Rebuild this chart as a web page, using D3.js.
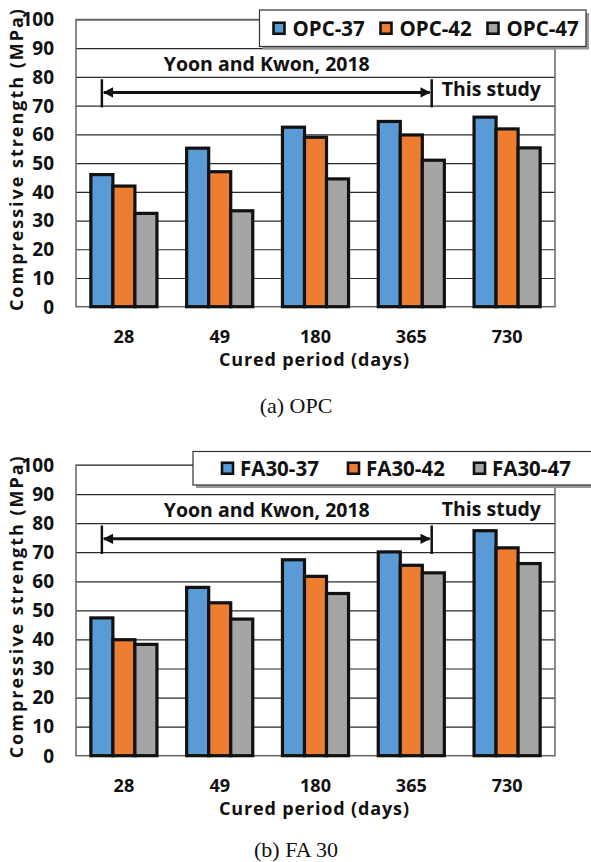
<!DOCTYPE html>
<html>
<head>
<meta charset="utf-8">
<script src="https://cdn.jsdelivr.net/npm/d3@7"></script>
<style>
	body { margin: 0; background: #fff; }
	text { font-family: "Open Sans", "Noto Sans", sans-serif; font-weight: 700; fill: #111; }
	.caption { font-family: "Liberation Serif", "Times New Roman", serif; font-weight: 400; }
</style>
</head>
<body>
<div id="chart"></div>
<script>
// cured periods (days) on the x axis
var periods = ["28", "49", "180", "365", "730"];
var yTicks = [0, 10, 20, 30, 40, 50, 60, 70, 80, 90, 100];

// (a) OPC
var opcNames = ["OPC-37", "OPC-42", "OPC-47"];
var opc37 = [46, 55.2, 62.5, 64.5, 66];
var opc42 = [42, 47, 59, 59.8, 61.9];
var opc47 = [32.5, 33.4, 44.5, 51, 55.3];

// (b) FA 30
var faNames = ["FA30-37", "FA30-42", "FA30-47"];
var fa37 = [47.4, 57.9, 67.4, 70.1, 77.4];
var fa42 = [39.9, 52.6, 61.7, 65.5, 71.5];
var fa47 = [38.3, 47, 55.8, 62.9, 66.1];

var colors = ["#5B9BD5", "#ED7D31", "#A5A5A5"];

var width = 591,
	height = 862;

var svg = d3.select("#chart")
	.append("svg")
	.attr("width", width)
	.attr("height", height);

var defs = svg.append("defs");
defs.append("marker")
	.attr("id", "head")
	.attr("viewBox", "0 0 10 10")
	.attr("refX", 9)
	.attr("refY", 5)
	.attr("markerWidth", 4)
	.attr("markerHeight", 3.4)
	.attr("markerUnits", "strokeWidth")
	.attr("orient", "auto-start-reverse")
	.append("path")
	.attr("d", "M0,0 L10,5 L0,10 z")
	.attr("fill", "#111");

function drawChart(opts) {
	var g = svg.append("g");

	var x = d3.scaleBand()
		.domain(periods)
		.range([76, 555]);

	var xs = d3.scaleBand()
		.domain(d3.range(opts.names.length))
		.range([x.bandwidth() * 0.155, x.bandwidth() * 0.845]);

	var y = d3.scaleLinear()
		.domain([0, 100])
		.range([opts.bottom, opts.top]);

	// plot background + grid
	g.append("rect")
		.attr("x", 76).attr("y", y(100))
		.attr("width", 555 - 76).attr("height", y(0) - y(100))
		.attr("fill", "#fff");

	g.selectAll(".grid")
		.data(yTicks.slice(1))
		.enter().append("line")
		.attr("x1", 76).attr("x2", 555)
		.attr("y1", function(d) { return y(d) + 0.5; })
		.attr("y2", function(d) { return y(d) + 0.5; })
		.attr("stroke", "#2b2b2b")
		.attr("stroke-width", 1.2);

	g.append("rect")
		.attr("x", 76).attr("y", y(100))
		.attr("width", 555 - 76).attr("height", y(0) - y(100))
		.attr("fill", "none")
		.attr("stroke", "#666")
		.attr("stroke-width", 1.5);

	// bars
	var groups = g.selectAll(".grp")
		.data(periods)
		.enter().append("g")
		.attr("transform", function(d) { return "translate(" + x(d) + ",0)"; });

	groups.selectAll("rect")
		.data(function(d, i) {
			return opts.values.map(function(s, k) { return { k: k, v: s[i] }; });
		})
		.enter().append("rect")
		.attr("x", function(d) { return xs(d.k); })
		.attr("width", xs.bandwidth())
		.attr("y", function(d) { return y(d.v); })
		.attr("height", function(d) { return y(0) - y(d.v); })
		.attr("fill", function(d) { return colors[d.k]; })
		.attr("stroke", "#111")
		.attr("stroke-width", 3.2);

	// y tick labels
	g.selectAll(".ytick")
		.data(yTicks)
		.enter().append("text")
		.attr("x", 54)
		.attr("y", function(d) { return y(d); })
		.attr("dy", "0.36em")
		.attr("text-anchor", "end")
		.style("font-size", "19px")
		.text(function(d) { return d; });

	// x tick labels
	g.selectAll(".xtick")
		.data(periods)
		.enter().append("text")
		.attr("x", function(d) { return x(d) + x.bandwidth() / 2; })
		.attr("y", y(0) + 36.5)
		.attr("text-anchor", "middle")
		.style("font-size", "18px")
		.text(function(d) { return d; });

	g.append("text")
		.attr("x", 314)
		.attr("y", y(0) + 59)
		.attr("text-anchor", "middle")
		.attr("textLength", 190)
		.attr("lengthAdjust", "spacing")
		.style("font-size", "18px")
		.text("Cured period (days)");

	g.append("text")
		.attr("transform", "translate(23," + (y(50) - 3) + ") rotate(-90)")
		.attr("text-anchor", "middle")
		.attr("textLength", 302)
		.attr("lengthAdjust", "spacing")
		.style("font-size", "18px")
		.text("Compressive strength (MPa)");

	// Yoon and Kwon annotation
	var xa = x("28") + x.bandwidth() * 0.27,
		xb = x("365") + x.bandwidth() * 0.713;

	g.append("line")
		.attr("x1", xa + 2).attr("x2", xb - 2)
		.attr("y1", y(74.6)).attr("y2", y(74.6))
		.attr("stroke", "#111")
		.attr("stroke-width", 3)
		.attr("marker-start", "url(#head)")
		.attr("marker-end", "url(#head)");

	[xa, xb].forEach(function(xv) {
		g.append("line")
			.attr("x1", xv).attr("x2", xv)
			.attr("y1", y(79.2)).attr("y2", y(69.4))
			.attr("stroke", "#111")
			.attr("stroke-width", 2.5);
	});

	g.append("text")
		.attr("x", (xa + xb) / 2)
		.attr("y", y(82.1))
		.attr("text-anchor", "middle")
		.style("font-size", "19.5px")
		.text("Yoon and Kwon, 2018");

	g.append("text")
		.attr("x", xb + 10)
		.attr("y", y(opts.studyY))
		.style("font-size", "19.5px")
		.text("This study");

	// legend
	var lg = g.append("g");
	lg.append("rect")
		.attr("x", opts.legend.x + 3).attr("y", opts.legend.y + 3)
		.attr("width", opts.legend.w).attr("height", opts.legend.h)
		.attr("fill", "#999");
	lg.append("rect")
		.attr("x", opts.legend.x).attr("y", opts.legend.y)
		.attr("width", opts.legend.w).attr("height", opts.legend.h)
		.attr("fill", "#fff")
		.attr("stroke", "#333")
		.attr("stroke-width", 1.2);

	var items = lg.selectAll(".item")
		.data(opts.names)
		.enter().append("g")
		.attr("transform", function(d, i) {
			return "translate(" + (opts.legend.x + opts.legend.first + i * opts.legend.step) + "," + (opts.legend.y + opts.legend.h / 2) + ")";
		});
	items.append("rect")
		.attr("x", 0).attr("y", -5.5)
		.attr("width", 11).attr("height", 11)
		.attr("fill", function(d, i) { return colors[i]; })
		.attr("stroke", "#111")
		.attr("stroke-width", 2.6);
	items.append("text")
		.attr("x", opts.legend.gap)
		.attr("dy", "0.36em")
		.style("font-size", "20.5px")
		.text(function(d) { return d; });

	svg.append("text")
		.attr("class", "caption")
		.attr("x", 296)
		.attr("y", opts.captionY)
		.attr("text-anchor", "middle")
		.style("font-size", "22px")
		.text(opts.caption);
}

drawChart({
	names: opcNames,
	values: [opc37, opc42, opc47],
	top: 19.5,
	bottom: 306.7,
	studyY: 73.2,
	legend: { x: 259.5, y: 10, w: 326.5, h: 36.5, first: 14, step: 107, gap: 19 },
	caption: "(a) OPC",
	captionY: 413
});

drawChart({
	names: faNames,
	values: [fa37, fa42, fa47],
	top: 465,
	bottom: 755.7,
	studyY: 82.4,
	legend: { x: 193, y: 451.5, w: 402, h: 33.5, first: 29, step: 126, gap: 18 },
	caption: "(b) FA 30",
	captionY: 857
});
</script>
</body>
</html>
